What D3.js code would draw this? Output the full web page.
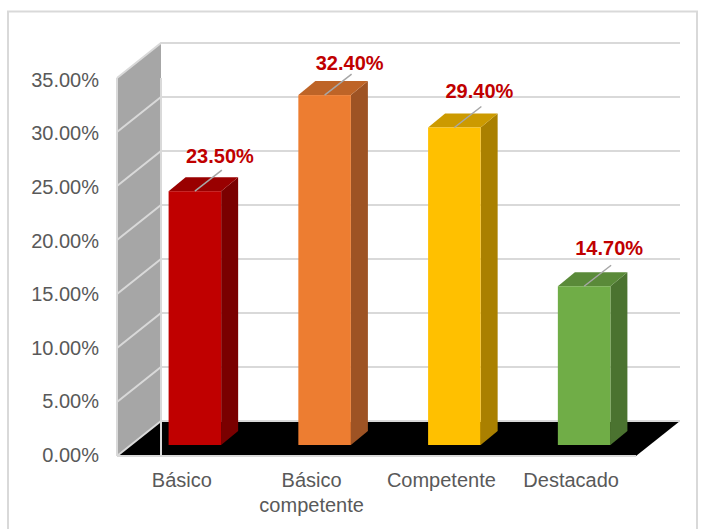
<!DOCTYPE html>
<html>
<head>
<meta charset="utf-8">
<script src="https://cdn.jsdelivr.net/npm/d3@7"></script>
<style>
  html, body { margin: 0; padding: 0; background: #fff; }
  svg { display: block; font-family: "Liberation Sans", Arial, sans-serif; }
</style>
</head>
<body>
<div id="chart"></div>
<script>
// Chart values
var categories = [["Básico"], ["Básico", "competente"], ["Competente"], ["Destacado"]];
var values = [23.5, 32.4, 29.4, 14.7];
var yTicks = [0, 5, 10, 15, 20, 25, 30, 35];

// Colours per bar: front, top, side
var frontColors = ["#c00000", "#ed7d31", "#ffc000", "#70ad47"];
var topColors = ["#990000", "#be6427", "#cc9a00", "#5a8a39"];
var sideColors = ["#7a0000", "#9e5324", "#aa8000", "#4b7330"];

// Placement
var width = 707,
  height = 529,
  x0 = 117, x1 = 636,
  y0 = 456, y1 = 78,
  wallDx = 44, wallDy = 35,    // depth of the whole plot box
  barDx = 17, barDy = 14,      // depth of one bar
  barLift = 11, barShift = 13; // bars stand inside the floor

// data labels were nudged by hand in the original
var labelNudge = [0, 3, -1, -3];

var svg = d3.select("#chart").append("svg")
  .attr("width", width)
  .attr("height", height);

var x = d3.scaleBand()
  .domain(d3.range(values.length))
  .range([x0, x1])
  .paddingInner(0.595)
  .paddingOuter(0.2975);

var y = d3.scaleLinear()
  .domain([0, 35])
  .range([y0, y1]);

// tick labels sit a little tighter than the gridlines
var yLabel = d3.scaleLinear()
  .domain([0, 35])
  .range([y0 - 1, y1 + 2]);

function pts(a) {
  return a.map(function(p) { return p.join(","); }).join(" ");
}

// Outer frame
svg.append("rect")
  .attr("x", 8).attr("y", 11.5)
  .attr("width", 689).attr("height", 530)
  .attr("fill", "#fff")
  .attr("stroke", "#d9d9d9")
  .attr("stroke-width", 2);

// Side wall
svg.append("polygon")
  .attr("points", pts([[x0, y(0)], [x0, y(35)], [x0 + wallDx, y(35) - wallDy], [x0 + wallDx, y(0) - wallDy]]))
  .attr("fill", "#a6a6a6");

// Floor
svg.append("polygon")
  .attr("points", pts([[x0, y(0)], [x0 + wallDx, y(0) - wallDy], [x1 + wallDx, y(0) - wallDy], [x1, y(0)]]))
  .attr("fill", "#000");

// Gridlines on back wall and side wall
var grid = svg.append("g")
  .attr("fill", "none")
  .attr("stroke", "#d9d9d9")
  .attr("stroke-width", 2);

grid.selectAll("path")
  .data(yTicks)
  .enter().append("path")
  .attr("d", function(d) {
    return "M" + x0 + "," + y(d) + "L" + (x0 + wallDx) + "," + (y(d) - wallDy) + "L" + (x1 + wallDx) + "," + (y(d) - wallDy);
  });

grid.append("path")
  .attr("d", "M" + x0 + "," + y(0) + "L" + x0 + "," + y(35));
grid.append("path")
  .attr("d", "M" + (x0 + wallDx) + "," + y(0) + "L" + (x0 + wallDx) + "," + y(35));
grid.append("path")
  .attr("d", "M" + x0 + "," + y(0) + "L" + x1 + "," + y(0));

// Bars
var bars = svg.append("g").selectAll("g")
  .data(values)
  .enter().append("g")
  .attr("transform", "translate(" + barShift + "," + (-barLift) + ")");

bars.append("polygon")
  .attr("fill", function(d, i) { return sideColors[i]; })
  .attr("points", function(d, i) {
    var r = x(i) + x.bandwidth();
    return pts([[r, y(0)], [r, y(d)], [r + barDx, y(d) - barDy], [r + barDx, y(0) - barDy]]);
  });

bars.append("polygon")
  .attr("fill", function(d, i) { return topColors[i]; })
  .attr("points", function(d, i) {
    var l = x(i), r = l + x.bandwidth();
    return pts([[l, y(d)], [l + barDx, y(d) - barDy], [r + barDx, y(d) - barDy], [r, y(d)]]);
  });

bars.append("rect")
  .attr("fill", function(d, i) { return frontColors[i]; })
  .attr("x", function(d, i) { return x(i); })
  .attr("y", function(d) { return y(d); })
  .attr("width", x.bandwidth())
  .attr("height", function(d) { return y(0) - y(d); });

// Leader lines and data labels
bars.append("line")
  .attr("x1", function(d, i) { return x(i) + x.bandwidth() / 2; })
  .attr("y1", function(d) { return y(d); })
  .attr("x2", function(d, i) { return x(i) + x.bandwidth() / 2 + 27; })
  .attr("y2", function(d) { return y(d) - 21; })
  .attr("stroke", "#a6a6a6")
  .attr("stroke-width", 1.5);

bars.append("text")
  .attr("x", function(d, i) { return x(i) + x.bandwidth() / 2 + 25; })
  .attr("y", function(d, i) { return y(d) - 28 + labelNudge[i]; })
  .attr("text-anchor", "middle")
  .attr("font-size", 20)
  .attr("font-weight", "bold")
  .attr("fill", "#c00000")
  .text(function(d) { return d.toFixed(2) + "%"; });

// Y axis labels
var yAxis = d3.axisLeft(yLabel)
  .tickValues(yTicks)
  .tickSize(0)
  .tickPadding(18)
  .tickFormat(function(d) { return d.toFixed(2) + "%"; });

var yAxisG = svg.append("g")
  .attr("transform", "translate(" + x0 + ",0)")
  .call(yAxis);
yAxisG.select(".domain").remove();
yAxisG.selectAll("text")
  .attr("font-family", "Liberation Sans, Arial, sans-serif")
  .attr("font-size", 20)
  .attr("fill", "#595959");

// Category labels
var catLabels = svg.append("g").selectAll("text")
  .data(categories)
  .enter().append("text")
  .attr("text-anchor", "middle")
  .attr("font-size", 20)
  .attr("fill", "#595959");

catLabels.selectAll("tspan")
  .data(function(d, i) { return d.map(function(s) { return { s: s, i: i }; }); })
  .enter().append("tspan")
  .attr("x", function(d) { return x(d.i) + x.bandwidth() / 2; })
  .attr("y", function(d, j) { return 487 + j * 25; })
  .text(function(d) { return d.s; });
</script>
</body>
</html>
